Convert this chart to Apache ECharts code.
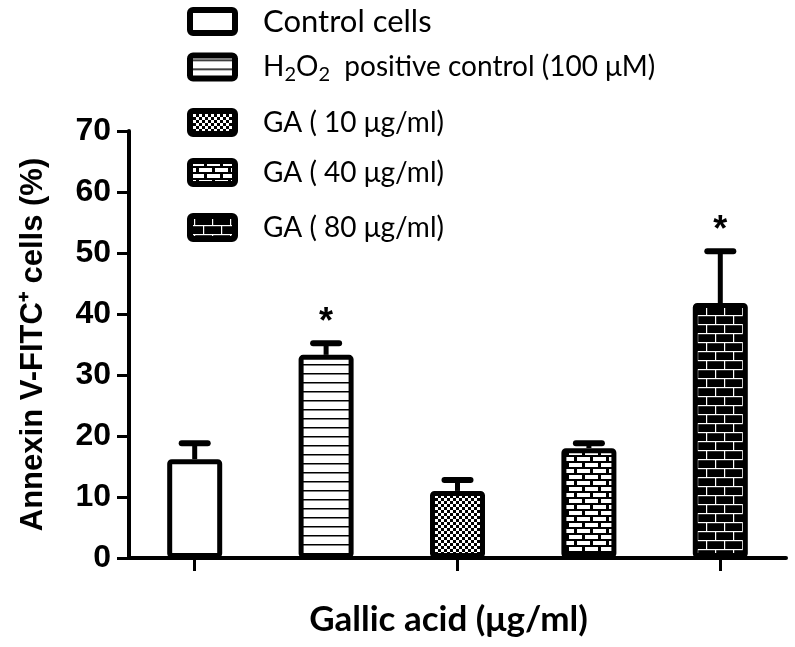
<!DOCTYPE html>
<html>
<head>
<meta charset="utf-8">
<script src="https://cdn.jsdelivr.net/npm/echarts@6/dist/echarts.min.js"></script>
<style>html,body{margin:0;padding:0;background:#fff}#c{width:795px;height:647px}</style>
</head>
<body>
<div id="c"></div>
<script>
// ---- data ----
const categories = ['Control cells', 'H2O2 positive control (100 μM)', 'GA (10 μg/ml)', 'GA (40 μg/ml)', 'GA (80 μg/ml)'];
const means = [16.2, 33.3, 11.0, 18.0, 41.8];
const sem = [2.6, 1.9, 1.8, 0.8, 8.5];
const marks = ['', '*', '', '', '*'];
const yMin = 0, yMax = 70, yStep = 10;

// ---- patterns (style only) ----
function pat(w, h, draw) {
  const c = document.createElement('canvas');
  c.width = w; c.height = h;
  const g = c.getContext('2d');
  draw(g, w, h);
  return { image: c, repeat: 'repeat' };
}
const pWhite = '#ffffff';
const pLines = pat(4, 9, (g, w, h) => { g.fillStyle = '#fff'; g.fillRect(0, 0, w, h); g.fillStyle = '#000'; g.fillRect(0, 4, w, 1.5); });
const pCheck = pat(6, 6, (g, w, h) => { g.fillStyle = '#000'; g.fillRect(0, 0, w, h); g.fillStyle = '#fff'; g.fillRect(0, 0, 3, 3); g.fillRect(3, 3, 3, 3); });
const pBrickW = pat(16, 12, (g, w, h) => {
  g.fillStyle = '#000'; g.fillRect(0, 0, w, h); g.fillStyle = '#fff';
  g.fillRect(1, 1, 13, 4);
  g.fillRect(9, 7, 13, 4); g.fillRect(-7, 7, 13, 4);
});
const pBrickB = pat(18, 18, (g, w, h) => {
  g.fillStyle = '#000'; g.fillRect(0, 0, w, h); g.fillStyle = '#fff';
  g.fillRect(0, 0, w, 1.2); g.fillRect(0, 9, w, 1.2);
  g.fillRect(4, 0, 1.2, 9); g.fillRect(13, 9, 1.2, 9);
});
const patterns = [pWhite, pLines, pCheck, pBrickW, pBrickB];

// ---- legend (graphic) ----
const legendY = [21.5, 67, 122.5, 172.5, 227.5];
const legendLabels = [
  'Control cells',
  'H{sub|2}O{sub|2}  positive control (100 μM)',
  'GA ( 10 μg/ml)',
  'GA ( 40 μg/ml)',
  'GA ( 80 μg/ml)'
];
const legendFont = 'Lato';
const graphics = [];
legendY.forEach((cy, i) => {
  graphics.push({
    type: 'rect', z: 10,
    shape: { x: 0, y: 0, width: 45, height: 23, r: 3 },
    position: [190, cy - 11.5],
    style: { fill: patterns[i], stroke: '#000', lineWidth: 6, lineJoin: 'round' }
  });
  graphics.push({
    type: 'text', z: 10,
    position: [263, cy],
    style: {
      text: legendLabels[i], x: 0, y: 0, verticalAlign: 'middle',
      font: (i === 0 ? '31px ' : '28px ') + legendFont, fill: '#000',
      rich: { sub: { fontSize: 20, fontFamily: legendFont, padding: [16, 0, 0, 0], verticalAlign: 'bottom' } }
    }
  });
});

const chart = echarts.init(document.getElementById('c'));
chart.setOption({
  animation: false,
  backgroundColor: '#fff',
  grid: { left: 129, right: 9, top: 131, bottom: 89 },
  xAxis: {
    type: 'category', data: categories,
    name: 'Gallic acid (μg/ml)', nameLocation: 'middle', nameGap: 44,
    nameTextStyle: { fontFamily: 'Lato', fontWeight: 'bold', fontSize: 35, color: '#000', padding: [0, 18, 0, 0] },
    axisLine: { lineStyle: { color: '#000', width: 4 } },
    axisTick: { show: true, alignWithLabel: true, length: 13, lineStyle: { color: '#000', width: 3 } },
    axisLabel: { show: false }
  },
  yAxis: {
    type: 'value', min: yMin, max: yMax, interval: yStep,
    name: 'Annexin V-FITC⁺ cells (%)', nameLocation: 'middle', nameGap: 80,
    nameTextStyle: { fontFamily: 'Liberation Sans', fontWeight: 'bold', fontSize: 31, color: '#000' },
    axisLine: { show: true, lineStyle: { color: '#000', width: 4 } },
    axisTick: { show: true, length: 12, lineStyle: { color: '#000', width: 3 } },
    axisLabel: { fontFamily: 'Liberation Sans', fontWeight: 'bold', fontSize: 32, color: '#000', margin: 18 },
    splitLine: { show: false }
  },
  graphic: graphics,
  series: [
    {
      type: 'bar', barWidth: 55,
      data: means.map((v, i) => ({ value: v, itemStyle: { color: patterns[i] } })),
      itemStyle: { borderColor: '#000', borderWidth: 5, borderRadius: 2 },
      z: 2
    },
    {
      type: 'custom', z: 3,
      data: means.map((m, i) => [i, m, sem[i]]),
      renderItem: (params, api) => {
        const i = api.value(0), m = api.value(1), e = api.value(2);
        const p0 = api.coord([i, m]);
        const p1 = api.coord([i, m + e]);
        const hw = 13;
        return {
          type: 'group',
          children: [
            { type: 'line', shape: { x1: p0[0], y1: p0[1], x2: p1[0], y2: p1[1] }, style: { stroke: '#000', lineWidth: 5 } },
            { type: 'line', shape: { x1: p1[0] - hw, y1: p1[1], x2: p1[0] + hw, y2: p1[1] }, style: { stroke: '#000', lineWidth: 6, lineCap: 'round' } },
            { type: 'text', style: { text: marks[params.dataIndex], x: p1[0], y: p1[1] - 20, align: 'center', verticalAlign: 'middle', font: 'bold 36px "Liberation Sans"', fill: '#000' } }
          ]
        };
      }
    }
  ]
});
</script>
</body>
</html>
